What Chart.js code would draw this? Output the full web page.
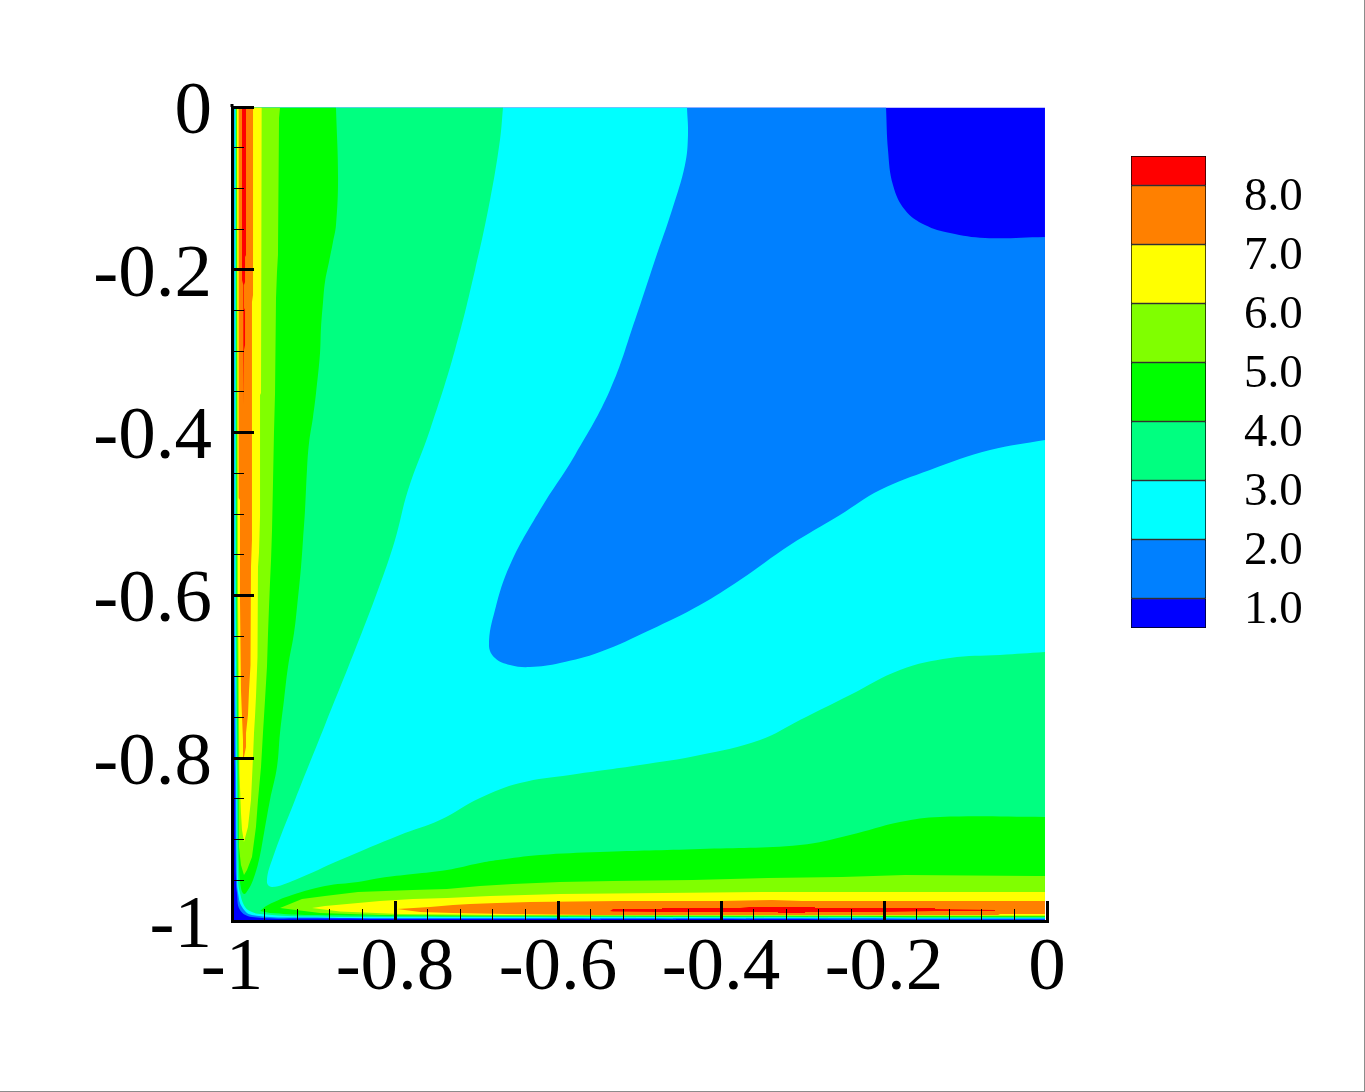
<!DOCTYPE html>
<html>
<head>
<meta charset="utf-8">
<script src="https://cdn.jsdelivr.net/npm/chart.js@4"></script>
<style>
html,body{margin:0;padding:0;background:#fff;overflow:hidden}
#page{position:relative;width:1365px;height:1092px;background:#fff}
#main{position:absolute;left:0;top:0}
#bar{position:absolute;left:1100px;top:140px}
#edgeR{position:absolute;left:1364px;top:0;width:1px;height:1092px;background:#8c8c8c}
#edgeB{position:absolute;left:0;top:1091px;width:1365px;height:1px;background:#8c8c8c}
</style>
</head>
<body>
<div id="page">
<canvas id="main" width="1365" height="1092"></canvas>
<canvas id="bar" width="240" height="520"></canvas>
<div id="edgeR"></div><div id="edgeB"></div>
</div>
<script>
const xMajorTicks=[-1,-0.8,-0.6,-0.4,-0.2,0];
const yMajorTicks=[-1,-0.8,-0.6,-0.4,-0.2,0];
const xMinorTicks=[-0.96,-0.92,-0.88,-0.84,-0.76,-0.72,-0.68,-0.64,-0.56,-0.52,-0.48,-0.44,-0.36,-0.32,-0.28,-0.24,-0.16,-0.12,-0.08,-0.04];
const yMinorTicks=[-0.95,-0.9,-0.85,-0.75,-0.7,-0.65,-0.55,-0.5,-0.45,-0.35,-0.3,-0.25,-0.15,-0.1,-0.05];
const legendTicks=[1,2,3,4,5,6,7,8];
const legendBands=[[0.5,1],[1,2],[2,3],[3,4],[4,5],[5,6],[6,7],[7,8],[8,8.5]];
const bandColors=['#0000ff','#0080ff','#00ffff','#00ff80','#00ff00','#80ff00','#ffff00','#ff8000','#ff0000'];

const band0=[[-0.9988,-0.001],[-0.0025,-0.001],[-0.0025,-0.9988],[-0.9988,-0.9988]];
const band1=[[-0.9982,-0.001],[-0.1975,-0.001],[-0.1975,-0.001],[-0.1951,-0.0528],[-0.189,-0.0958],[-0.1742,-0.1265],[-0.1497,-0.145],[-0.119,-0.1548],[-0.0761,-0.1609],[-0.0025,-0.1597],[-0.0025,-0.1597],[-0.0025,-0.9982],[-0.0025,-0.9982],[-0.6994,-0.9975],[-0.9104,-0.9969],[-0.9755,-0.9951],[-0.9902,-0.9865],[-0.9939,-0.9656],[-0.9951,-0.9496],[-0.9963,-0.8182],[-0.9982,-0.6057],[-0.9982,-0.6057]];
const band2=[[-0.9969,-0.001],[-0.4417,-0.001],[-0.4417,-0.001],[-0.4405,-0.0344],[-0.4442,-0.0713],[-0.4601,-0.1265],[-0.481,-0.188],[-0.5055,-0.2617],[-0.5362,-0.3477],[-0.5791,-0.4275],[-0.6221,-0.4951],[-0.6589,-0.5627],[-0.6773,-0.6179],[-0.6847,-0.6609],[-0.6773,-0.6769],[-0.6589,-0.6855],[-0.6344,-0.688],[-0.5975,-0.683],[-0.5485,-0.6695],[-0.4871,-0.6425],[-0.4258,-0.6118],[-0.3767,-0.5811],[-0.3153,-0.5381],[-0.254,-0.5012],[-0.2049,-0.4705],[-0.1436,-0.4459],[-0.0699,-0.4214],[-0.0025,-0.4091],[-0.0025,-0.4091],[-0.0025,-0.9969],[-0.0025,-0.9969],[-0.6994,-0.9963],[-0.9104,-0.9957],[-0.9755,-0.9926],[-0.9877,-0.9828],[-0.9926,-0.9656],[-0.9939,-0.9496],[-0.9951,-0.8182],[-0.9969,-0.6057],[-0.9969,-0.6057]];
const band3=[[-0.9957,-0.001],[-0.6675,-0.001],[-0.6675,-0.001],[-0.6712,-0.0405],[-0.6834,-0.1143],[-0.7018,-0.2002],[-0.7264,-0.2985],[-0.7571,-0.3968],[-0.784,-0.4705],[-0.8,-0.5319],[-0.8209,-0.5934],[-0.8491,-0.6671],[-0.8859,-0.7592],[-0.9227,-0.8514],[-0.9509,-0.9251],[-0.9571,-0.9521],[-0.9509,-0.9582],[-0.9227,-0.9496],[-0.8675,-0.9251],[-0.7939,-0.8943],[-0.7448,-0.8759],[-0.6957,-0.8489],[-0.6466,-0.8305],[-0.5853,-0.8206],[-0.4994,-0.8084],[-0.4258,-0.7961],[-0.3521,-0.7776],[-0.3031,-0.7531],[-0.2417,-0.7224],[-0.1804,-0.6916],[-0.119,-0.6769],[-0.0577,-0.6732],[-0.0025,-0.6695],[-0.0025,-0.6695],[-0.0025,-0.9961],[-0.0025,-0.9961],[-0.6994,-0.9951],[-0.9104,-0.9945],[-0.9656,-0.9914],[-0.9755,-0.9889],[-0.984,-0.9828],[-0.9902,-0.9656],[-0.9926,-0.9496],[-0.9939,-0.8182],[-0.9957,-0.6057],[-0.9957,-0.6057]];
const band4Left=[[-0.9951,-0.001],[-0.8724,-0.001],[-0.8724,-0.001],[-0.8699,-0.0872],[-0.8724,-0.145],[-0.8761,-0.1658],[-0.881,-0.1904],[-0.8859,-0.215],[-0.8883,-0.2396],[-0.8908,-0.2715],[-0.892,-0.3022],[-0.8969,-0.3514],[-0.9006,-0.3808],[-0.9055,-0.4128],[-0.908,-0.4459],[-0.9104,-0.4951],[-0.9129,-0.5319],[-0.9153,-0.5651],[-0.9202,-0.6143],[-0.9239,-0.6462],[-0.9313,-0.688],[-0.9362,-0.7285],[-0.9411,-0.769],[-0.9448,-0.8108],[-0.9534,-0.8514],[-0.9607,-0.8919],[-0.9669,-0.9251],[-0.9742,-0.9496],[-0.9804,-0.9619],[-0.9853,-0.9668],[-0.989,-0.9595],[-0.9914,-0.9312],[-0.9926,-0.8182],[-0.9945,-0.6057],[-0.9945,-0.6057]];
const band4Bottom=[[-0.9656,-0.9877],[-0.9558,-0.9803],[-0.9264,-0.9681],[-0.8859,-0.957],[-0.8454,-0.9521],[-0.8184,-0.9472],[-0.7779,-0.9423],[-0.7362,-0.9373],[-0.6957,-0.9287],[-0.6736,-0.9251],[-0.6221,-0.9189],[-0.5485,-0.9152],[-0.4258,-0.9115],[-0.3031,-0.9066],[-0.2417,-0.8943],[-0.1804,-0.8784],[-0.1313,-0.8722],[-0.0025,-0.8722],[-0.0025,-0.8722],[-0.0025,-0.9951],[-0.0025,-0.9951],[-0.6994,-0.9941],[-0.9104,-0.9926],[-0.9534,-0.9902]];
const band5Left=[[-0.9945,-0.001],[-0.9411,-0.001],[-0.9423,-0.0135],[-0.9436,-0.1818],[-0.9448,-0.2027],[-0.946,-0.2346],[-0.9472,-0.3514],[-0.9485,-0.4005],[-0.9497,-0.4619],[-0.9509,-0.5197],[-0.9521,-0.5565],[-0.9534,-0.5848],[-0.9546,-0.6143],[-0.9558,-0.6462],[-0.9571,-0.688],[-0.9595,-0.7285],[-0.962,-0.769],[-0.9644,-0.8108],[-0.9681,-0.8514],[-0.9706,-0.8845],[-0.9755,-0.9214],[-0.9816,-0.9373],[-0.9853,-0.9435],[-0.989,-0.9312],[-0.9914,-0.9091],[-0.992,-0.8182],[-0.9939,-0.6057]];
const band5Bottom=[[-0.9411,-0.984],[-0.9141,-0.973],[-0.8859,-0.9693],[-0.8454,-0.9644],[-0.7779,-0.9619],[-0.7362,-0.9607],[-0.6957,-0.957],[-0.6552,-0.9545],[-0.5975,-0.9521],[-0.5325,-0.9509],[-0.4344,-0.9496],[-0.3423,-0.9472],[-0.2515,-0.9459],[-0.1742,-0.9435],[-0.0147,-0.9447],[-0.0025,-0.9447],[-0.0025,-0.9942],[-0.6994,-0.9935],[-0.8184,-0.9926],[-0.892,-0.9902]];
const band6Left=[[-0.9939,-0.001],[-0.9636,-0.001],[-0.9644,-0.2088],[-0.9644,-0.3514],[-0.9656,-0.3538],[-0.9656,-0.5025],[-0.9669,-0.5479],[-0.9681,-0.5651],[-0.9681,-0.6143],[-0.9693,-0.6757],[-0.9706,-0.7248],[-0.9718,-0.7494],[-0.973,-0.769],[-0.9742,-0.7985],[-0.9767,-0.8514],[-0.9804,-0.8845],[-0.9853,-0.9029],[-0.9877,-0.8882],[-0.989,-0.8673],[-0.9908,-0.8182],[-0.9926,-0.6057]];
const band6Bottom=[[-0.9018,-0.984],[-0.8859,-0.9816],[-0.8454,-0.9779],[-0.8184,-0.9754],[-0.7779,-0.973],[-0.7362,-0.9717],[-0.6834,-0.9693],[-0.5975,-0.9668],[-0.4712,-0.9656],[-0.3497,-0.9644],[-0.0025,-0.9644],[-0.0025,-0.9932],[-0.6712,-0.9926],[-0.7939,-0.9914],[-0.8675,-0.9883]];
const band7Left=[[-0.9918,-0.001],[-0.9742,-0.001],[-0.9742,-0.231],[-0.9755,-0.2396],[-0.9755,-0.5319],[-0.9767,-0.5651],[-0.9767,-0.6511],[-0.9779,-0.6855],[-0.9791,-0.7162],[-0.9804,-0.7469],[-0.9828,-0.769],[-0.9828,-0.7862],[-0.9853,-0.7985],[-0.9865,-0.7776],[-0.9877,-0.7494],[-0.989,-0.7162],[-0.9902,-0.6057],[-0.9902,-0.4828],[-0.9918,-0.4803]];
const band7Bottom=[[-0.7975,-0.9853],[-0.7571,-0.9828],[-0.7288,-0.9803],[-0.708,-0.9791],[-0.6748,-0.9779],[-0.6344,-0.9767],[-0.5239,-0.9754],[-0.4012,-0.9754],[-0.3374,-0.9742],[-0.3006,-0.9754],[-0.0025,-0.9754],[-0.0025,-0.9914],[-0.0577,-0.9914],[-0.0601,-0.9926],[-0.5485,-0.9926],[-0.6626,-0.9914],[-0.7288,-0.9902],[-0.7693,-0.9889]];
const band8Left=[[-0.9877,-0.001],[-0.9828,-0.001],[-0.9828,-0.1818],[-0.984,-0.1843],[-0.984,-0.215],[-0.9853,-0.2187],[-0.9853,-0.2469],[-0.984,-0.2494],[-0.984,-0.2924],[-0.9853,-0.2985],[-0.9853,-0.3661],[-0.9865,-0.3661],[-0.9865,-0.2187],[-0.9877,-0.2125]];
const band8Bottom=[[-0.5362,-0.9877],[-0.5325,-0.9853],[-0.4724,-0.9853],[-0.4724,-0.984],[-0.3767,-0.984],[-0.3656,-0.9828],[-0.2847,-0.9828],[-0.2847,-0.984],[-0.1374,-0.984],[-0.1374,-0.9853],[-0.0638,-0.9865],[-0.0638,-0.9877],[-0.1374,-0.9877],[-0.1988,-0.9889],[-0.2969,-0.9889],[-0.2969,-0.9902],[-0.3301,-0.9902],[-0.3301,-0.9889],[-0.4773,-0.9889],[-0.5325,-0.9883]];
const axisStub=[[-1,0],[-1,0.0037]];

const paintOrder=[[band0,0,0],[band1,1,0.4],[band2,2,0.4],[band3,3,0.4],[band4Left,4,0.4],[band4Bottom,4,0.4],[band5Left,5,0],[band5Bottom,5,0],[band6Left,6,0],[band6Bottom,6,0],[band7Left,7,0],[band7Bottom,7,0],[band8Left,8,0],[band8Bottom,8,0]];
const total=paintOrder.length;
const fieldSets=paintOrder.map(([pts,c,t],i)=>({data:pts,showLine:true,fill:'shape',tension:t,pointRadius:0,borderWidth:0,borderColor:'rgba(0,0,0,0)',backgroundColor:bandColors[c],order:total-i+1}));
fieldSets.push({data:axisStub,showLine:true,fill:false,pointRadius:0,borderWidth:3,borderColor:'#000',clip:false,order:0});

const serif='"Liberation Serif","Times New Roman",serif';
const fmt=v=>String(+Number(v).toFixed(1));
function minorAxis(axis,pos,values,len){
  return {type:'linear',axis:axis,position:pos,weight:-1,min:-1,max:0,
    afterBuildTicks:s=>{s.ticks=values.map(v=>({value:v}));},
    afterFit:s=>{if(axis==='x')s.height=0;else s.width=0;},
    ticks:{display:false,z:1},
    border:{display:false,z:1},
    grid:{drawOnChartArea:false,drawTicks:true,tickLength:-len,tickWidth:1,tickColor:'#000',z:1}};
}
new Chart(document.getElementById('main'),{
  type:'scatter',
  data:{datasets:fieldSets},
  options:{responsive:false,animation:false,events:[],
    layout:{padding:{left:0,top:107,right:318,bottom:0}},
    plugins:{legend:{display:false},tooltip:{enabled:false},filler:{drawTime:'beforeDatasetDraw'}},
    scales:{
      x:{type:'linear',position:'bottom',min:-1,max:0,
        afterBuildTicks:s=>{s.ticks=xMajorTicks.map(v=>({value:v}));},
        afterFit:s=>{s.height=171;},
        ticks:{autoSkip:false,maxRotation:0,padding:23,z:1,color:'#000',font:{family:serif,size:75},callback:fmt},
        border:{display:true,width:3,color:'#000',z:1},
        grid:{drawOnChartArea:false,drawTicks:true,tickLength:-20,tickWidth:3,tickColor:'#000',z:1}},
      y:{type:'linear',position:'left',min:-1,max:0,
        afterBuildTicks:s=>{s.ticks=yMajorTicks.map(v=>({value:v}));},
        afterFit:s=>{s.width=232;},
        ticks:{autoSkip:false,padding:42,labelOffset:6,z:1,color:'#000',font:{family:serif,size:75},callback:fmt},
        border:{display:true,width:3,color:'#000',z:1},
        grid:{drawOnChartArea:false,drawTicks:true,tickLength:-22,tickWidth:3,tickColor:'#000',z:1}},
      x2:minorAxis('x','bottom',xMinorTicks,12),
      y2:minorAxis('y','left',yMinorTicks,12)
    }
  }
});
new Chart(document.getElementById('bar'),{
  type:'bar',
  data:{labels:[''],datasets:legendBands.map((b,i)=>({data:[b],backgroundColor:bandColors[i],borderColor:'#000',borderWidth:1,borderSkipped:false,barPercentage:1,categoryPercentage:1,grouped:false}))},
  options:{responsive:false,animation:false,events:[],
    layout:{padding:{left:31,top:16,right:0,bottom:32}},
    plugins:{legend:{display:false},tooltip:{enabled:false}},
    scales:{
      x:{display:false},
      y:{type:'linear',position:'right',min:0.5,max:8.5,
        afterBuildTicks:s=>{s.ticks=legendTicks.map(v=>({value:v}));},
        afterFit:s=>{s.width=134;s.paddingTop=0;s.paddingBottom=0;},
        grid:{display:false},border:{display:false},
        ticks:{padding:30,labelOffset:12,color:'#000',font:{family:serif,size:47},callback:v=>Number(v).toFixed(1)}}
    }
  }
});
</script>
</body>
</html>
